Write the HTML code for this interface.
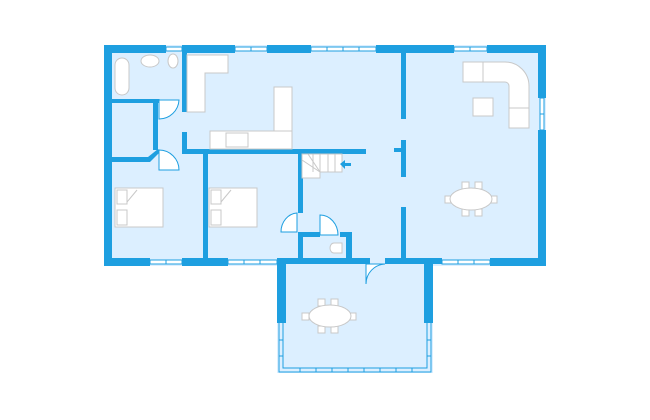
<!DOCTYPE html>
<html><head><meta charset="utf-8"><style>html,body{margin:0;padding:0;background:#fff;width:650px;height:420px;overflow:hidden}</style></head>
<body>
<svg width="650" height="420" viewBox="0 0 650 420" xmlns="http://www.w3.org/2000/svg">
<!-- floor -->
<rect x="104" y="45" width="442" height="221" fill="#dcefff"/>
<rect x="277" y="258" width="156" height="115" fill="#dcefff"/>
<g fill="#1e9fe0">
<!-- top wall -->
<rect x="104" y="45" width="62" height="8"/>
<rect x="182" y="45" width="53" height="8"/>
<rect x="267" y="45" width="44" height="8"/>
<rect x="376" y="45" width="78" height="8"/>
<rect x="487" y="45" width="59" height="8"/>
<!-- left wall -->
<rect x="104" y="45" width="8" height="221"/>
<!-- right wall -->
<rect x="538" y="45" width="8" height="53"/>
<rect x="538" y="130" width="8" height="136"/>
<!-- bottom main -->
<rect x="104" y="258" width="46" height="8"/>
<rect x="182" y="258" width="46" height="8"/>
<rect x="277" y="258" width="93" height="6"/>
<rect x="385" y="258" width="57" height="6"/>
<rect x="490" y="258" width="56" height="8"/>
<!-- sunroom walls -->
<rect x="277" y="258" width="9" height="65"/>
<rect x="424" y="258" width="9" height="65"/>
<!-- interior -->
<rect x="111" y="99" width="48" height="4"/>
<rect x="153" y="99" width="5" height="51"/>
<polygon points="111,157 148,157 158,149 160,152 150,162 111,162"/>
<rect x="182" y="53" width="5" height="59"/>
<rect x="182" y="132" width="5" height="20"/>
<rect x="182" y="149" width="184" height="5"/>
<rect x="203" y="152" width="5" height="106"/>
<rect x="298" y="152" width="5" height="61"/>
<rect x="298" y="232" width="5" height="26"/>
<rect x="298" y="232" width="22" height="5"/>
<rect x="340" y="232" width="12" height="5"/>
<rect x="346" y="232" width="6" height="26"/>
<rect x="401" y="53" width="5" height="66"/>
<rect x="401" y="140" width="5" height="37"/>
<rect x="394" y="148" width="8" height="4"/>
<rect x="401" y="207" width="5" height="51"/>
</g>
<!-- windows -->
<g fill="#fff" stroke="#1e9fe0" stroke-width="1">
<rect x="166" y="47" width="16" height="4"/>
<rect x="235" y="47" width="32" height="4"/>
<rect x="311" y="47" width="65" height="4"/>
<rect x="454" y="47" width="33" height="4"/>
<rect x="540" y="98" width="4" height="32"/>
<rect x="150" y="260" width="32" height="4"/>
<rect x="228" y="260" width="49" height="4"/>
<rect x="442" y="260" width="48" height="4"/>
<polyline points="279,323 279,372 431,372 431,323" fill="none"/>
<polyline points="283,323 283,368 427,368 427,323" fill="none"/>
</g>
<g stroke="#1e9fe0" stroke-width="1">
<line x1="251" y1="47" x2="251" y2="51"/><line x1="327" y1="47" x2="327" y2="51"/><line x1="343" y1="47" x2="343" y2="51"/><line x1="359" y1="47" x2="359" y2="51"/><line x1="470" y1="47" x2="470" y2="51"/>
<line x1="166" y1="260" x2="166" y2="264"/><line x1="244" y1="260" x2="244" y2="264"/><line x1="260" y1="260" x2="260" y2="264"/><line x1="458" y1="260" x2="458" y2="264"/><line x1="474" y1="260" x2="474" y2="264"/>
<line x1="540" y1="114" x2="544" y2="114"/>
<line x1="300" y1="368" x2="300" y2="372"/><line x1="316" y1="368" x2="316" y2="372"/><line x1="332" y1="368" x2="332" y2="372"/><line x1="348" y1="368" x2="348" y2="372"/><line x1="364" y1="368" x2="364" y2="372"/><line x1="380" y1="368" x2="380" y2="372"/><line x1="396" y1="368" x2="396" y2="372"/><line x1="412" y1="368" x2="412" y2="372"/>
<line x1="279" y1="340" x2="283" y2="340"/><line x1="279" y1="356" x2="283" y2="356"/><line x1="427" y1="340" x2="431" y2="340"/><line x1="427" y1="356" x2="431" y2="356"/>
</g>
<!-- doors -->
<g fill="#fff" stroke="#1e9fe0" stroke-width="1">
<path d="M159,119 L159,99 M159,119 A20,20 0 0 0 179,100 L159,100 Z"/>
<path d="M159,170 L159,150 A20,20 0 0 1 179,170 Z" transform="translate(0,0)"/>
<path d="M297,213 L297,232 L281,232 A17,19 0 0 1 297,213 Z"/>
<path d="M320,215 L320,235 L338,235 A18,20 0 0 0 320,215 Z"/>
<path d="M366,264 L366,284 A20,20 0 0 1 385,264 Z" transform="translate(0,0)"/>
</g>
<!-- furniture -->
<g fill="#fff" stroke="#c8c8c8" stroke-width="1">
<rect x="115" y="58" width="14" height="37" rx="7"/>
<ellipse cx="150" cy="61" rx="9" ry="6"/>
<ellipse cx="173" cy="61" rx="5" ry="7"/>
<polygon points="187,55 228,55 228,73 205,73 205,112 187,112"/>
<rect x="210" y="131" width="82" height="18"/>
<rect x="274" y="87" width="18" height="44"/>
<rect x="226" y="133" width="22" height="14"/>
<polygon points="302,154 342,154 342,172 320,172 320,178 302,178"/>
<line x1="313" y1="154" x2="313" y2="172"/><line x1="320" y1="154" x2="320" y2="172"/><line x1="328" y1="154" x2="328" y2="172"/><line x1="335" y1="154" x2="335" y2="172"/>
<line x1="302" y1="160" x2="320" y2="172"/><line x1="308" y1="154" x2="320" y2="172"/>
<rect x="115" y="188" width="48" height="39"/>
<rect x="117" y="190" width="10" height="14"/><rect x="117" y="210" width="10" height="15"/>
<line x1="127" y1="202" x2="137" y2="190"/>
<rect x="209" y="188" width="48" height="39"/>
<rect x="211" y="190" width="10" height="14"/><rect x="211" y="210" width="10" height="15"/>
<line x1="221" y1="202" x2="231" y2="190"/>
<path d="M463,62 L505,62 A24,24 0 0 1 529,86 L529,128 L509,128 L509,86 A4,4 0 0 0 505,82 L463,82 Z"/>
<line x1="483" y1="62" x2="483" y2="82"/><line x1="509" y1="108" x2="529" y2="108"/>
<rect x="473" y="98" width="20" height="18"/>
<rect x="462" y="182" width="7" height="7"/><rect x="475" y="182" width="7" height="7"/>
<rect x="462" y="209" width="7" height="7"/><rect x="475" y="209" width="7" height="7"/>
<rect x="445" y="196" width="7" height="7"/><rect x="490" y="196" width="7" height="7"/>
<ellipse cx="471" cy="199" rx="21" ry="11"/>
<rect x="318" y="299" width="7" height="7"/><rect x="331" y="299" width="7" height="7"/>
<rect x="318" y="326" width="7" height="7"/><rect x="331" y="326" width="7" height="7"/>
<rect x="302" y="313" width="7" height="7"/><rect x="349" y="313" width="7" height="7"/>
<ellipse cx="330" cy="316" rx="21" ry="11"/>
<path d="M334,243 L342,243 L342,253 L334,253 A4,5 0 0 1 334,243 Z"/>
</g>
<polygon points="340,164 345,160 345,163 351,163 351,166 345,166 345,169" fill="#1e9fe0"/>
</svg>
</body></html>
